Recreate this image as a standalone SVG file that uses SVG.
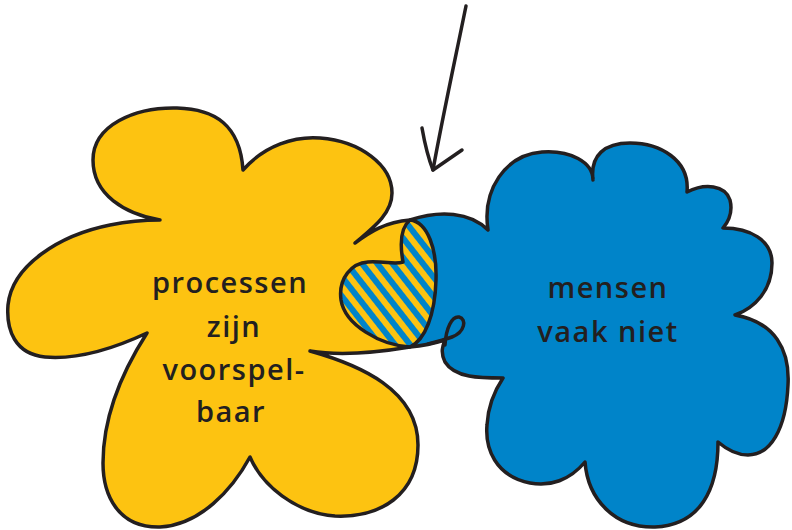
<svg xmlns="http://www.w3.org/2000/svg" width="792" height="530" viewBox="0 0 792 530">
<style>
.ol{fill:none;stroke:#231f20;stroke-width:3.5;stroke-linejoin:round;stroke-linecap:round}
.txt{font-family:"Open Sans","Noto Sans",sans-serif;font-size:29px;font-weight:600;fill:#231f20;text-anchor:middle;letter-spacing:1.5px}
</style>
<defs>
<pattern id="stripes" width="12" height="12" patternUnits="userSpaceOnUse" patternTransform="rotate(-38)">
<rect width="12" height="12" fill="#fdc311"/>
<rect width="6" height="12" fill="#0084c9"/>
</pattern>
<path id="yellowShape" d="M160 220 C125 214 93 195 93 160 C93 125 135 107 177 108 C215 109 240 125 243 170 C265 145 295 136 320 138 C360 141 392 165 392 193 C392 215 370 230 355 243 C370 232 385 222 410 220 C428 222 437 250 436 280 C435 315 425 340 410 347 C380 352 340 356 310 351 C360 365 418 390 418 445 C418 495 380 518 335 516 C295 513 262 485 250 457 C232 490 200 525 160 527 C118 528 103 495 103 463 C103 420 120 375 147 333 C115 348 80 360 45 357 C15 354 6 330 8 305 C12 265 60 235 110 225 C130 221 150 220 160 220 Z"/>
<path id="blueShape" d="M410 220 C440 210 470 212 488 230 C482 190 505 155 542 152 C570 150 593 162 593 180 C590 155 605 143 630 143 C660 143 690 160 687 192 C705 183 725 185 730 200 C733 212 728 222 723 228 C750 228 772 240 772 263 C772 290 755 308 735 315 C775 322 790 350 788 385 C786 430 770 455 748 455 C735 455 725 448 718 442 C718 490 700 525 655 527 C615 528 588 500 585 462 C570 480 550 487 530 483 C495 476 485 448 487 425 C488 405 495 390 503 378 C480 378 455 378 445 362 C440 352 443 345 445 340 C432 344 420 346 410 347 C380 345 345 325 341 300 C338 278 352 263 368 262 C385 261 395 265 403 262 C400 245 400 228 410 220 Z"/>
<clipPath id="clipY"><use href="#yellowShape"/></clipPath>
</defs>
<g id="yellow-flower">
<use href="#yellowShape" fill="#fdc311"/>
</g>
<g id="blue-flower">
<use href="#blueShape" fill="#0084c9"/>
</g>
<g id="overlap" clip-path="url(#clipY)">
<use href="#blueShape" fill="url(#stripes)"/>
</g>
<g id="outlines">
<use href="#yellowShape" class="ol"/>
<use href="#blueShape" class="ol"/>
<path class="ol" d="M445 345 C446 328 452 316 459 317 C467 319 465 332 452 337 C444 340 436 342 428 344"/>
</g>
<g id="connectors">
<path class="ol" d="M466 6 C455 60 442 120 433 170"/>
<path class="ol" d="M422 128 C425 145 429 160 433 170 L462 150"/>
</g>
<g id="label-yellow">
<text class="txt" x="230" y="293">processen</text>
<text class="txt" x="234" y="337">zijn</text>
<text class="txt" x="234" y="380">voorspel-</text>
<text class="txt" x="231" y="422">baar</text>
</g>
<g id="label-blue">
<text class="txt" x="608" y="298">mensen</text>
<text class="txt" x="608" y="342">vaak niet</text>
</g>
</svg>
